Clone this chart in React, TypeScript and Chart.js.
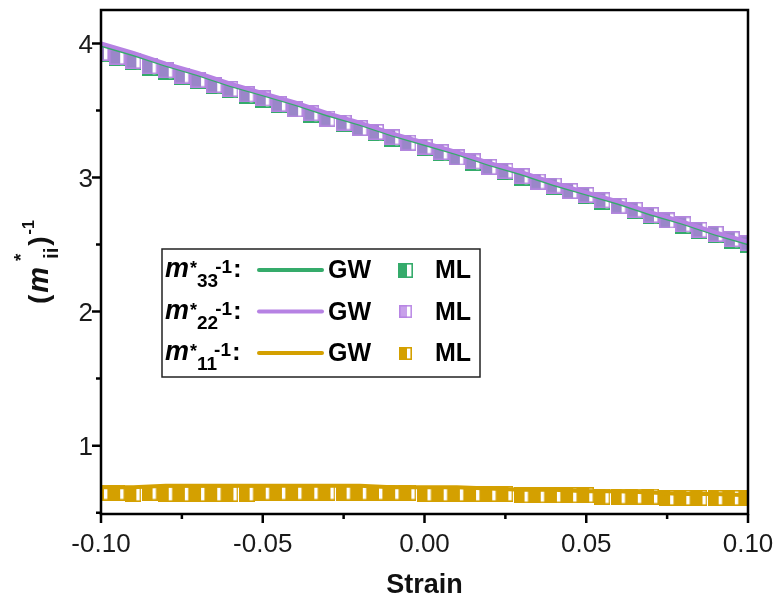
import React, { useEffect, useRef } from "react";
import { Chart, registerables } from "chart.js";
Chart.register(...registerables);

// ---------- data ----------
const strainGW = [-0.10, -0.09, -0.08, -0.07, -0.06, -0.05, -0.04, -0.03, -0.02, -0.01, 0.00, 0.01, 0.02, 0.03, 0.04, 0.05, 0.06, 0.07, 0.08, 0.09, 0.10];
const gw33 = [3.99, 3.92, 3.84, 3.77, 3.69, 3.62, 3.55, 3.47, 3.40, 3.32, 3.25, 3.18, 3.10, 3.03, 2.95, 2.88, 2.81, 2.73, 2.66, 2.58, 2.51];
const gw22 = [4.00, 3.93, 3.85, 3.78, 3.70, 3.63, 3.56, 3.48, 3.41, 3.33, 3.26, 3.19, 3.11, 3.04, 2.96, 2.89, 2.82, 2.74, 2.67, 2.59, 2.52];
const gw11 = [0.69, 0.69, 0.70, 0.70, 0.70, 0.70, 0.70, 0.70, 0.70, 0.69, 0.69, 0.69, 0.68, 0.67, 0.67, 0.66, 0.66, 0.65, 0.64, 0.64, 0.63];

const strainML = [-0.100, -0.095, -0.090, -0.085, -0.080, -0.075, -0.070, -0.065, -0.060, -0.055, -0.050, -0.045, -0.040, -0.035, -0.030, -0.025, -0.020, -0.015, -0.010, -0.005, 0.000, 0.005, 0.010, 0.015, 0.020, 0.025, 0.030, 0.035, 0.040, 0.045, 0.050, 0.055, 0.060, 0.065, 0.070, 0.075, 0.080, 0.085, 0.090, 0.095, 0.100];
const ml33 = [3.92, 3.89, 3.86, 3.82, 3.79, 3.75, 3.72, 3.68, 3.65, 3.61, 3.58, 3.54, 3.51, 3.47, 3.44, 3.40, 3.37, 3.33, 3.29, 3.26, 3.22, 3.18, 3.15, 3.11, 3.08, 3.04, 3.00, 2.97, 2.93, 2.90, 2.86, 2.82, 2.79, 2.75, 2.71, 2.68, 2.64, 2.60, 2.57, 2.53, 2.50];
const ml22 = [3.93, 3.90, 3.87, 3.83, 3.80, 3.76, 3.73, 3.69, 3.66, 3.62, 3.59, 3.55, 3.51, 3.48, 3.44, 3.41, 3.37, 3.34, 3.30, 3.26, 3.23, 3.19, 3.15, 3.12, 3.08, 3.05, 3.01, 2.97, 2.94, 2.90, 2.87, 2.83, 2.79, 2.76, 2.72, 2.68, 2.65, 2.61, 2.58, 2.54, 2.51];
const ml11 = [0.65, 0.65, 0.64, 0.65, 0.64, 0.64, 0.64, 0.64, 0.64, 0.64, 0.65, 0.65, 0.65, 0.65, 0.65, 0.65, 0.65, 0.65, 0.65, 0.65, 0.64, 0.64, 0.64, 0.64, 0.64, 0.64, 0.63, 0.63, 0.63, 0.63, 0.63, 0.62, 0.62, 0.62, 0.62, 0.61, 0.61, 0.61, 0.61, 0.61, 0.61];

const xTickValues = [-0.1, -0.05, 0, 0.05, 0.1];
const xTickLabels = ["-0.10", "-0.05", "0.00", "0.05", "0.10"];
const xMinorTicks = [-0.075, -0.025, 0.025, 0.075];
const yTickValues = [1, 2, 3, 4];
const yTickLabels = ["1", "2", "3", "4"];
const yMinorTicks = [0.5, 1.5, 2.5, 3.5];

const legendSubs = ["33", "22", "11"];
const xTitle = "Strain";

// ---------- styles ----------
const GREEN = "#35ab6b";
const PURPLE = "#b682e3";
const GOLD = "#d4a000";
const FONT = "'Liberation Sans', Arial, sans-serif";

function makeMarker(fill: string, stroke: string, size: number, frac: number) {
  const c = document.createElement("canvas");
  c.width = size;
  c.height = size;
  const ctx = c.getContext("2d")!;
  ctx.fillStyle = "#ffffff";
  ctx.fillRect(0, 0, size, size);
  ctx.fillStyle = fill;
  ctx.fillRect(0, 0, Math.round(size * frac), size);
  ctx.strokeStyle = stroke;
  ctx.lineWidth = 1.6;
  ctx.strokeRect(0.8, 0.8, size - 1.6, size - 1.6);
  return c;
}

type Part = { t: string; font: string; dy: number; dx?: number; advance?: boolean };
function drawParts(ctx: CanvasRenderingContext2D, parts: Part[], x: number, y: number) {
  let cx = x;
  for (const p of parts) {
    ctx.font = p.font;
    const px = cx + (p.dx ?? 0);
    ctx.fillText(p.t, px, y + p.dy);
    const w = ctx.measureText(p.t).width;
    if (p.advance !== false) cx = px + w;
  }
}

export default function App() {
  const ref = useRef<HTMLCanvasElement | null>(null);
  useEffect(() => {
    const canvas = ref.current!;
    const mk33 = makeMarker(GREEN, GREEN, 16, 0.66);
    const mk22 = makeMarker("#9a86c9", "#b386de", 16, 0.66);
    const mk11 = makeMarker(GOLD, GOLD, 16, 0.66);
    const lg33 = makeMarker(GREEN, GREEN, 15, 0.6);
    const lg22 = makeMarker("rgba(182,130,227,0.75)", "rgba(182,130,227,0.9)", 13, 0.6);
    const lg11 = makeMarker(GOLD, GOLD, 13, 0.6);

    const pts = (xs: number[], ys: number[]) => xs.map((x, i) => ({ x, y: ys[i] }));

    const decor = {
      id: "decor",
      afterDraw(chart: any) {
        const ctx: CanvasRenderingContext2D = chart.ctx;
        const xs = chart.scales.x;
        const ys = chart.scales.y;
        const { left, right, top, bottom } = chart.chartArea;
        ctx.save();
        // frame
        ctx.strokeStyle = "#000";
        ctx.lineWidth = 2.5;
        ctx.beginPath();
        ctx.moveTo(left, bottom);
        ctx.lineTo(left, top);
        ctx.lineTo(right, top);
        ctx.lineTo(right, bottom);
        ctx.closePath();
        ctx.stroke();
        // ticks
        ctx.beginPath();
        for (const v of xTickValues) {
          const px = xs.getPixelForValue(v);
          ctx.moveTo(px, bottom);
          ctx.lineTo(px, bottom + 9);
        }
        for (const v of xMinorTicks) {
          const px = xs.getPixelForValue(v);
          ctx.moveTo(px, bottom);
          ctx.lineTo(px, bottom + 5);
        }
        for (const v of yTickValues) {
          const py = ys.getPixelForValue(v);
          ctx.moveTo(left, py);
          ctx.lineTo(left - 9, py);
        }
        for (const v of yMinorTicks) {
          const py = ys.getPixelForValue(v);
          ctx.moveTo(left, py);
          ctx.lineTo(left - 5, py);
        }
        ctx.stroke();
        // tick labels
        ctx.fillStyle = "#1a1a1a";
        ctx.font = `26px ${FONT}`;
        ctx.textAlign = "center";
        ctx.textBaseline = "alphabetic";
        xTickValues.forEach((v, i) => {
          ctx.fillText(xTickLabels[i], xs.getPixelForValue(v), 552);
        });
        ctx.textAlign = "right";
        yTickValues.forEach((v, i) => {
          ctx.fillText(yTickLabels[i], 93, ys.getPixelForValue(v) + 9.5);
        });
        // x title
        ctx.fillStyle = "#111";
        ctx.textAlign = "center";
        ctx.font = `bold 27px ${FONT}`;
        ctx.fillText(xTitle, (left + right) / 2, 593);

        // y title (rotated rich text)
        ctx.save();
        ctx.translate(48, 306);
        ctx.rotate(-Math.PI / 2);
        ctx.textAlign = "left";
        drawParts(ctx, [
          { t: "(", font: `bold 28px ${FONT}`, dy: 0, dx: 2 },
          { t: "m", font: `italic bold 29px ${FONT}`, dy: 0, dx: 2 },
          { t: "*", font: `bold 19px ${FONT}`, dy: -21, dx: 6, advance: false },
          { t: "ii", font: `bold 20px ${FONT}`, dy: 10, dx: 8 },
          { t: ")", font: `bold 28px ${FONT}`, dy: 0, dx: 2 },
          { t: "-1", font: `bold 16px ${FONT}`, dy: -14, dx: 2 },
        ], 0, 0);
        ctx.restore();

        // legend box
        ctx.fillStyle = "#ffffff";
        ctx.fillRect(162, 249, 318, 128);
        ctx.strokeStyle = "#222";
        ctx.lineWidth = 1.5;
        ctx.strokeRect(162, 249, 318, 128);
        const colors = [GREEN, PURPLE, GOLD];
        const marks = [lg33, lg22, lg11];
        const baselines = [277, 318.5, 360];
        ctx.textAlign = "left";
        for (let r = 0; r < 3; r++) {
          const b = baselines[r];
          ctx.fillStyle = "#000";
          drawParts(ctx, [
            { t: "m", font: `italic bold 27px ${FONT}`, dy: 0 },
            { t: "*", font: `bold 18px ${FONT}`, dy: -3, dx: 1 },
            { t: legendSubs[r], font: `bold 19px ${FONT}`, dy: 10 },
            { t: "-1", font: `bold 19px ${FONT}`, dy: -4, dx: -3 },
            { t: ":", font: `bold 26px ${FONT}`, dy: 0, dx: 1 },
          ], 165, b);
          const cy = b - 7;
          ctx.strokeStyle = colors[r];
          ctx.lineWidth = 4;
          ctx.lineCap = "round";
          ctx.beginPath();
          ctx.moveTo(259, cy);
          ctx.lineTo(322, cy);
          ctx.stroke();
          ctx.fillStyle = "#000";
          ctx.font = `bold 25px ${FONT}`;
          ctx.fillText("GW", 328, b + 1);
          ctx.fillText("ML", 435, b + 1);
          const m = marks[r];
          ctx.drawImage(m, Math.round(405 - m.width / 2), Math.round(cy - m.height / 2));
        }
        ctx.restore();
      },
    };

    const chart = new Chart(canvas, {
      type: "line",
      data: {
        datasets: [
          { label: "GW22", data: pts(strainGW, gw22), borderColor: PURPLE, borderWidth: 4, pointRadius: 0, order: 0 },
          { label: "GW33", data: pts(strainGW, gw33), borderColor: GREEN, borderWidth: 4, pointRadius: 0, order: 1 },
          { label: "ML22", data: pts(strainML, ml22), showLine: false, pointStyle: mk22 as any, pointRadius: 8, order: 2 },
          { label: "ML33", data: pts(strainML, ml33), showLine: false, pointStyle: mk33 as any, pointRadius: 8, order: 3 },
          { label: "GW11", data: pts(strainGW, gw11), borderColor: GOLD, borderWidth: 4, pointRadius: 0, order: 4 },
          { label: "ML11", data: pts(strainML, ml11), showLine: false, pointStyle: mk11 as any, pointRadius: 8, order: 5 },
        ] as any,
      },
      options: {
        animation: false,
        responsive: false,
        layout: { padding: { left: 0, right: 30, top: 10, bottom: 0 } },
        plugins: { legend: { display: false }, tooltip: { enabled: false } },
        events: [],
        scales: {
          x: {
            type: "linear", min: -0.1, max: 0.1,
            ticks: { display: false }, grid: { display: false }, border: { display: false },
            afterFit: (s: any) => { s.height = 88; },
          },
          y: {
            type: "linear", min: 0.49, max: 4.25,
            ticks: { display: false }, grid: { display: false }, border: { display: false },
            afterFit: (s: any) => { s.width = 101; },
          },
        },
      } as any,
      plugins: [decor],
    });
    return () => chart.destroy();
  }, []);
  return (
    <div style={{ position: "fixed", left: 0, top: 0, width: 778, height: 602, background: "#fff" }}>
      <canvas ref={ref} width={778} height={602} style={{ display: "block" }} />
    </div>
  );
}
